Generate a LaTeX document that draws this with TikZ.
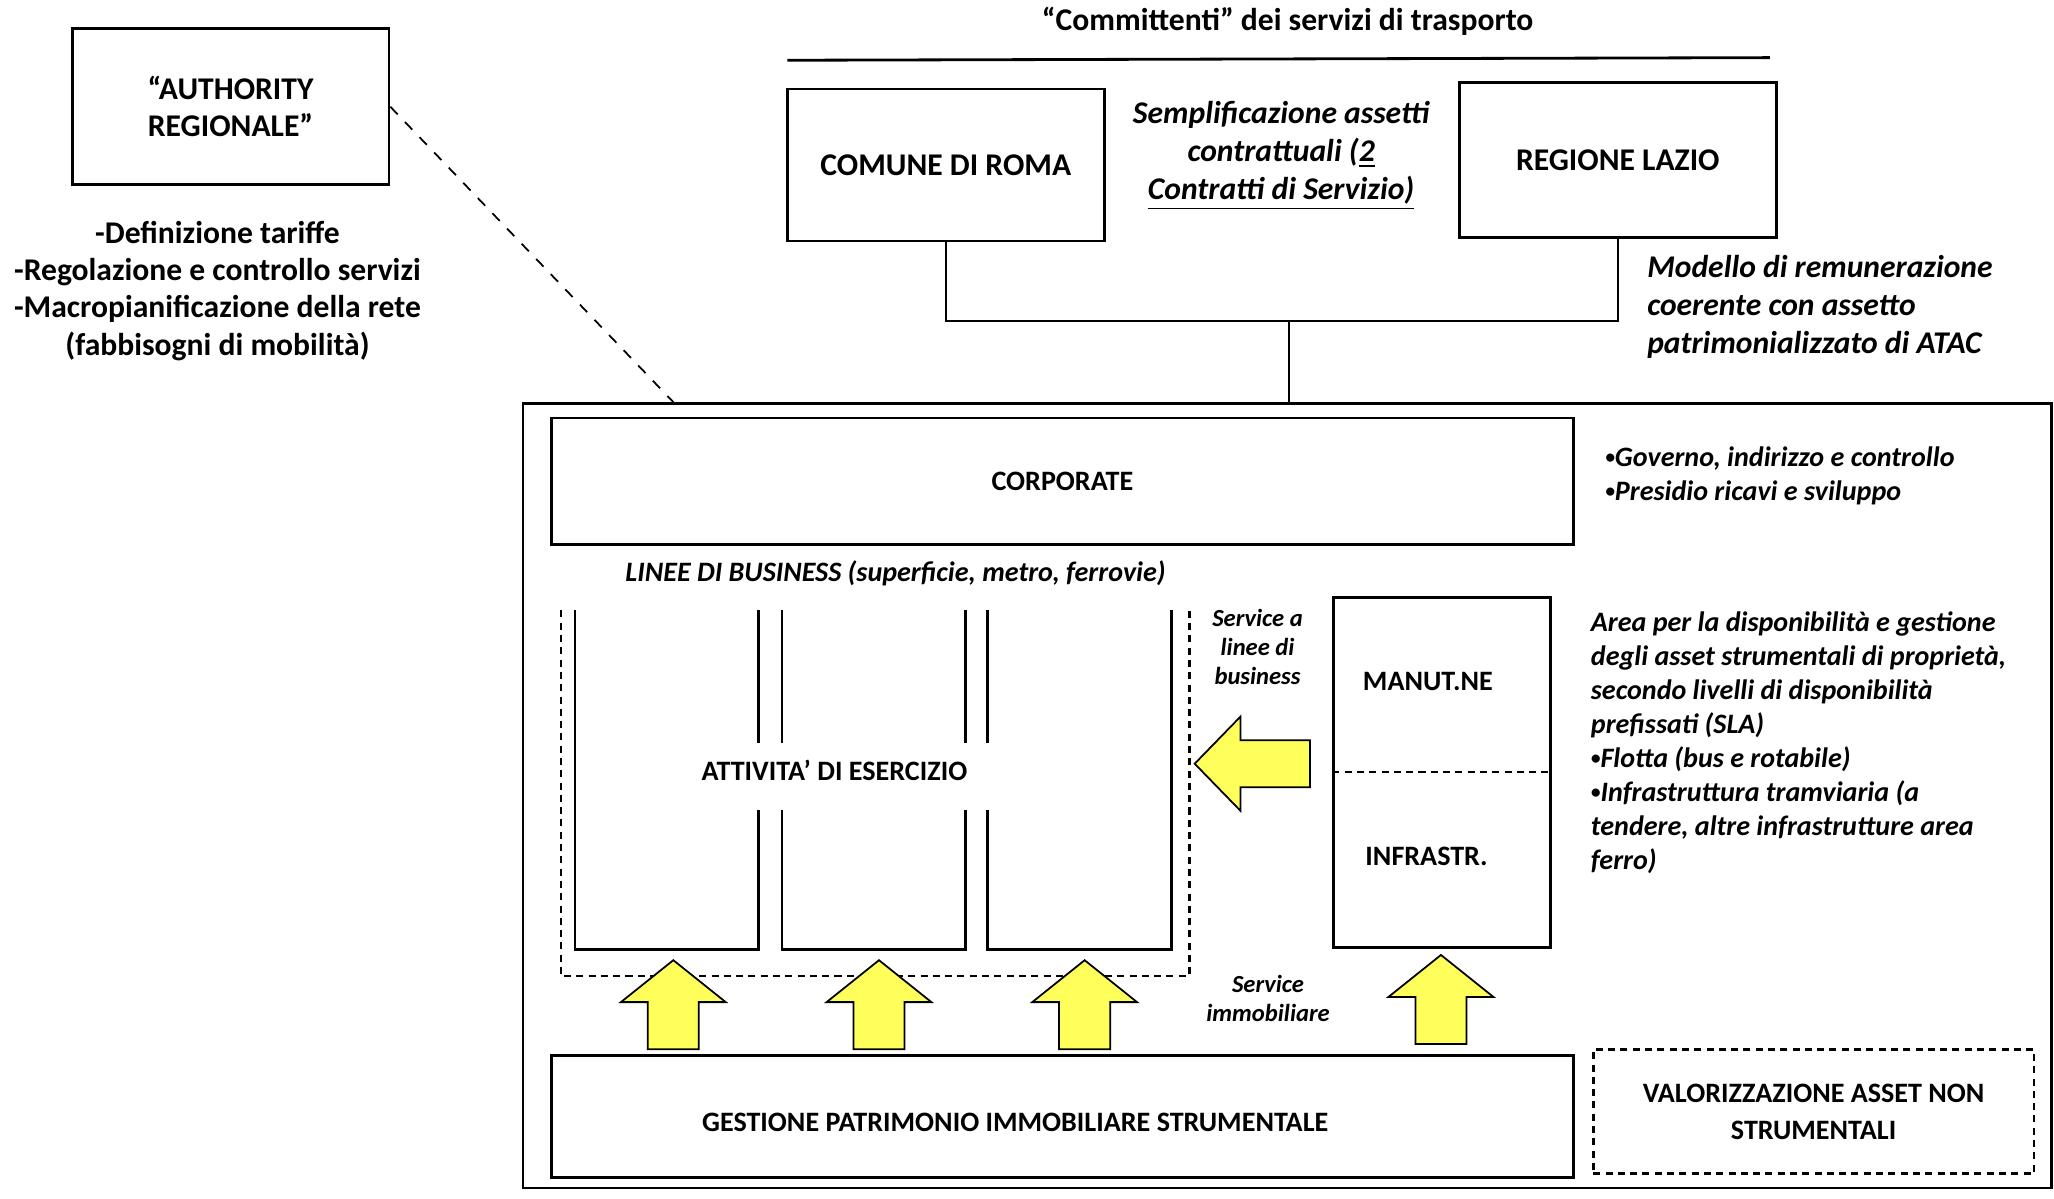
\documentclass[tikz,border=0pt]{standalone}
\usepackage{fontspec}
\setmainfont{Carlito}
\definecolor{arrowyellow}{HTML}{FFFF5C}
\newcommand{\pallino}{{\fontsize{5.5}{6}\selectfont\raisebox{0.3ex}{•}}}

\begin{document}
\begin{tikzpicture}[x=0.0131cm,y=-0.0131cm]
\tikzstyle{every node}=[font=\bfseries\fontsize{8}{9.7}\selectfont]
\tikzstyle{box}=[draw,line width=0.8pt,inner sep=0pt]
\tikzstyle{dbox}=[box,dash pattern=on 2pt off 1.5pt]
\tikzstyle{big}=[font=\bfseries\fontsize{9}{10.6}\selectfont]
\tikzstyle{bignote}=[font=\bfseries\itshape\fontsize{9}{10.8}\selectfont]
\tikzstyle{note}=[font=\bfseries\itshape\fontsize{8}{9.7}\selectfont]
\tikzstyle{smallnote}=[font=\bfseries\itshape\fontsize{7}{8.2}\selectfont,align=center]
\tikzstyle{yarrow}=[draw,fill=arrowyellow,line width=0.5pt]
\useasboundingbox (0,0) rectangle (1568,915);

% committenti
\node[big] (title) at (983,16) {“Committenti” dei servizi di trasporto};
\draw[line width=0.8pt] (601,46) -- (1351,44);
\node[box,big,minimum width=3.17cm,minimum height=1.52cm] (roma) at (722,126) {COMUNE DI ROMA};
\node[box,big,minimum width=3.17cm,minimum height=1.55cm] (lazio) at (1235,122) {REGIONE LAZIO};
\node[bignote,align=center] (contratti) at (978,119) {Semplificazione assetti\\contrattuali (\underline{2}\\\underline{Contratti di Servizio)}};
\node[bignote,align=left,anchor=west] (modello) at (1248,234) {Modello di remunerazione\\coerente con assetto\\patrimonializzato di ATAC};

% ATAC
\node[box,minimum width=15.29cm,minimum height=7.85cm] (atac) at (982.5,607.5) {};
\coordinate (join) at (984,245);
\draw[line width=0.6pt] (roma.south) |- (join) -| (lazio.south);
\draw[line width=0.6pt] (join) -- (join |- atac.north);

% authority
\node[box,big,align=center,minimum width=3.17cm,minimum height=1.56cm] (auth) at (176,81.5) {“AUTHORITY\\REGIONALE”};
\node[big,align=center] (compiti) at (166,222) {-Definizione tariffe\\-Regolazione e controllo servizi\\-Macropianificazione della rete\\(fabbisogni di mobilità)};
\coordinate (dl) at (515,308);
\draw[dashed,line width=0.5pt] (auth.east) -- (dl);

% corporate
\node[box,minimum width=10.22cm,minimum height=1.27cm] (corp) at (811,367.5) {CORPORATE};
\node[note,align=left,anchor=west] (governo) at (1216,363) {\pallino Governo, indirizzo e controllo\\\pallino Presidio ricavi e sviluppo};
\node[note,anchor=west] (linee) at (468,438) {LINEE DI BUSINESS (superficie, metro, ferrovie)};

% linee di business
\draw[line width=0.6pt,dash pattern=on 2pt off 1.5pt] (428,466) -- (428,745) -- (908,745) -- (908,466);
\draw[line width=0.8pt] (579,567) -- (579,466);
\draw[line width=0.8pt] (439,466) -- (439,725) -- (579,725) -- (579,618);
\draw[line width=0.8pt] (597,567) -- (597,466);
\draw[line width=0.8pt] (737,567) -- (737,466);
\draw[line width=0.8pt] (597,618) -- (597,725) -- (737,725) -- (737,618);
\draw[line width=0.8pt] (754,567) -- (754,466);
\draw[line width=0.8pt] (754,618) -- (754,725) -- (894,725) -- (894,466);
\node (esercizio) at (637,588) {ATTIVITA’ DI ESERCIZIO};

% manutenzione e infrastrutture
\node[box,minimum width=2.17cm,minimum height=3.50cm] (asset) at (1101,589.5) {};
\draw[line width=0.6pt,dash pattern=on 2pt off 1.5pt] (asset.west) -- (asset.east);
\node (manut) at (1090,520) {MANUT.NE};
\node (infra) at (1089,654) {INFRASTR.};
\node[smallnote] (service) at (960,494) {Service a\\linee di\\business};
\node[note,align=left,anchor=west] (area) at (1205,567) {Area per la disponibilità e gestione\\degli asset strumentali di proprietà,\\secondo livelli di disponibilità\\prefissati (SLA)\\\pallino Flotta (bus e rotabile)\\\pallino Infrastruttura tramviaria (a\\tendere, altre infrastrutture area\\ferro)};
\draw[yarrow] (912,583) -- (947,547) -- (947,565) -- (1000,565) -- (1000,601) -- (947,601) -- (947,619) -- cycle;

% service immobiliare
\draw[yarrow] (514,733) -- ++(40,32) -- ++(-20.5,0) -- ++(0,36) -- ++(-39,0) -- ++(0,-36) -- ++(-20.5,0) -- cycle;
\draw[yarrow] (671,733) -- ++(40,32) -- ++(-20.5,0) -- ++(0,36) -- ++(-39,0) -- ++(0,-36) -- ++(-20.5,0) -- cycle;
\draw[yarrow] (828,733) -- ++(40,32) -- ++(-20.5,0) -- ++(0,36) -- ++(-39,0) -- ++(0,-36) -- ++(-20.5,0) -- cycle;
\draw[yarrow] (1100,729) -- ++(40,32) -- ++(-20.5,0) -- ++(0,36) -- ++(-39,0) -- ++(0,-36) -- ++(-20.5,0) -- cycle;
\node[smallnote] (immob) at (968,762) {Service\\immobiliare};

% patrimonio
\node[box,minimum width=10.22cm,minimum height=1.22cm] (gestione) at (811,852.5) {};
\node (gestionetxt) at (775,857) {GESTIONE PATRIMONIO IMMOBILIARE STRUMENTALE};
\node[dbox,align=center,font=\bfseries\fontsize{8}{10.5}\selectfont,minimum width=4.41cm,minimum height=1.24cm] (valor) at (1384.5,848.5) {VALORIZZAZIONE ASSET NON\\STRUMENTALI};
\end{tikzpicture}
\end{document}
